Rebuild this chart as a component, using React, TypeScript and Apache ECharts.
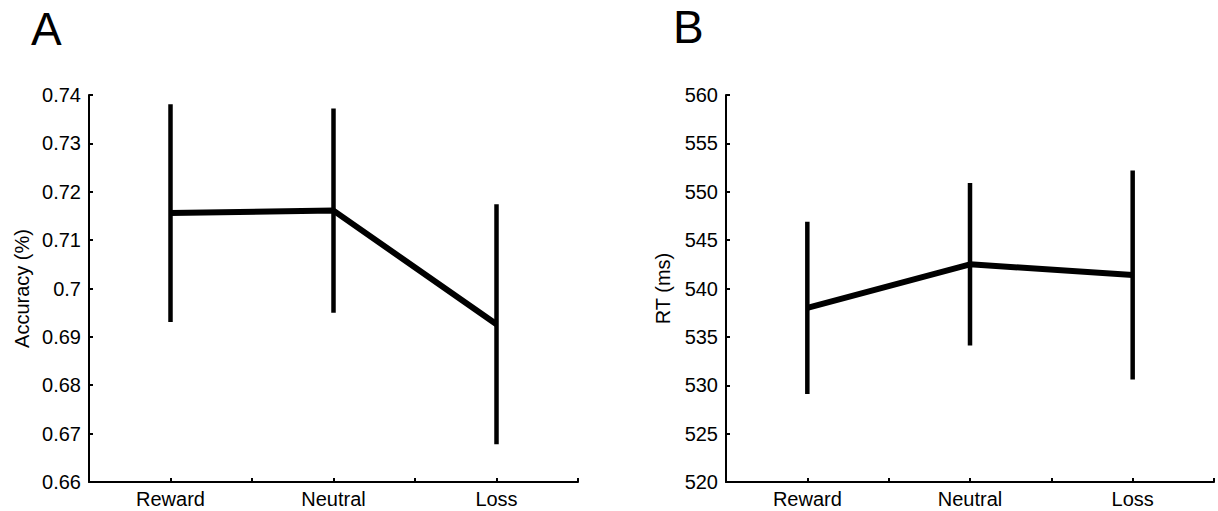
import React, { useEffect, useRef } from "react";
import * as echarts from "echarts";

const categories = ["Reward", "Neutral", "Loss"];
const accMean = [0.7156, 0.7161, 0.6926];
const accErr = [0.0225, 0.0211, 0.0248];
const rtMean = [538.0, 542.5, 541.4];
const rtErr = [8.9, 8.4, 10.8];
const accTicks = { min: 0.66, max: 0.74, interval: 0.01 };
const rtTicks = { min: 520, max: 560, interval: 5 };
const panelLabels = ["A", "B"];
const axisNames = ["Accuracy (%)", "RT (ms)"];

const FONT = "Liberation Sans, Arial, sans-serif";

function xAxisFor(gridIndex: number) {
  return {
    type: "value",
    gridIndex,
    min: 0.5,
    max: 3.5,
    interval: 0.5,
    axisLine: { show: true, lineStyle: { color: "#000", width: 2 } },
    axisTick: { show: true, inside: true, length: 4, lineStyle: { color: "#000", width: 2 } },
    splitLine: { show: false },
    axisLabel: {
      color: "#000",
      fontSize: 20,
      fontFamily: FONT,
      margin: 7,
      showMinLabel: true,
      showMaxLabel: true,
      formatter: (v: number) => {
        const i = Math.round(v) - 1;
        return Math.abs(v - Math.round(v)) < 1e-6 && i >= 0 && i < categories.length ? categories[i] : "";
      },
    },
  };
}

function yAxisFor(gridIndex: number, t: { min: number; max: number; interval: number }, name: string, gap: number) {
  return {
    type: "value",
    gridIndex,
    min: t.min,
    max: t.max,
    interval: t.interval,
    name,
    nameLocation: "middle",
    nameGap: gap,
    nameTextStyle: { color: "#000", fontSize: 20, fontFamily: FONT },
    axisLine: { show: true, lineStyle: { color: "#000", width: 2 } },
    axisTick: { show: true, inside: true, length: 4, lineStyle: { color: "#000", width: 2 } },
    splitLine: { show: false },
    axisLabel: { color: "#000", fontSize: 20, fontFamily: FONT, margin: 8 },
  };
}

function errSeries(idx: number, means: number[], errs: number[]) {
  return {
    type: "custom",
    xAxisIndex: idx,
    yAxisIndex: idx,
    data: means.map((m, i) => [i + 1, m - errs[i], m + errs[i]]),
    renderItem: (params: any, api: any) => {
      const lo = api.coord([api.value(0), api.value(1)]);
      const hi = api.coord([api.value(0), api.value(2)]);
      return {
        type: "line",
        shape: { x1: lo[0], y1: lo[1], x2: hi[0], y2: hi[1] },
        style: { stroke: "#000", lineWidth: 4.5, lineCap: "butt" },
      };
    },
    z: 2,
  };
}

function meanSeries(idx: number, means: number[]) {
  return {
    type: "line",
    xAxisIndex: idx,
    yAxisIndex: idx,
    data: means.map((m, i) => [i + 1, m]),
    symbol: "none",
    lineStyle: { color: "#000", width: 6 },
    z: 3,
  };
}

export default function App() {
  const ref = useRef<HTMLDivElement>(null);
  useEffect(() => {
    if (!ref.current) return;
    const chart = echarts.init(ref.current, null, { renderer: "svg" });
    chart.setOption({
      animation: false,
      backgroundColor: "#fff",
      grid: [
        { left: 89, top: 95, width: 489, height: 387 },
        { left: 726, top: 95, width: 488, height: 387 },
      ],
      xAxis: [xAxisFor(0), xAxisFor(1)],
      yAxis: [yAxisFor(0, accTicks, axisNames[0], 57), yAxisFor(1, rtTicks, axisNames[1], 53)],
      graphic: [
        { type: "text", left: 31, top: 6, style: { text: panelLabels[0], fontSize: 46, fontFamily: FONT, fill: "#000" } },
        { type: "text", left: 673, top: 4, style: { text: panelLabels[1], fontSize: 46, fontFamily: FONT, fill: "#000" } },
      ],
      series: [
        errSeries(0, accMean, accErr),
        meanSeries(0, accMean),
        errSeries(1, rtMean, rtErr),
        meanSeries(1, rtMean),
      ],
    });
    return () => chart.dispose();
  }, []);
  return (
    <div
      ref={ref}
      style={{ position: "fixed", left: 0, top: 0, width: 1218, height: 511, background: "#fff" }}
    />
  );
}
